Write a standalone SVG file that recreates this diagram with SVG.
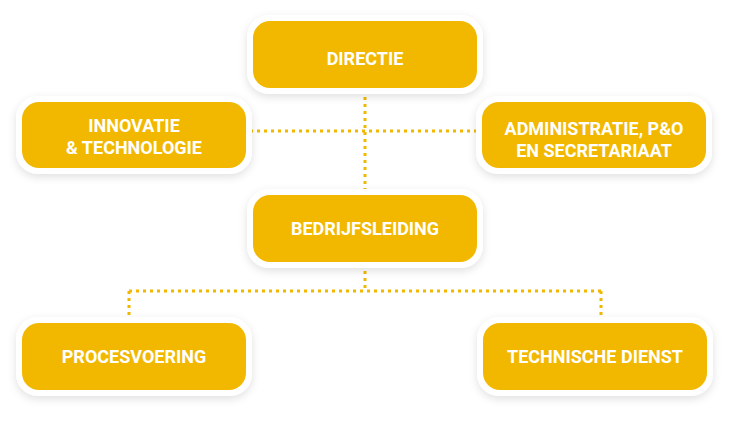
<svg xmlns="http://www.w3.org/2000/svg" width="730" height="421" viewBox="0 0 730 421">
<defs>
<filter id="sh" x="-10%" y="-20%" width="120%" height="150%"><feDropShadow dx="0" dy="3" stdDeviation="4" flood-color="#000" flood-opacity="0.12"/></filter>
<style>
.o{fill:#fff;filter:url(#sh)}
.b{fill:#F2B800}
.t{fill:#fff;font-family:Roboto,"Liberation Sans",sans-serif;font-weight:bold;font-size:18px;text-anchor:middle}
.c{stroke:#F2B800;stroke-width:3;stroke-dasharray:3 4;fill:none}
</style>
</defs>
<rect width="730" height="421" fill="#fff"/>
<g id="connectors">
<path class="c" d="M365 90V194M250 131H480M365 264V291M129 291H601M129 291V320M601 291V320"/>
</g>
<g id="directie"><rect class="o" x="247" y="15" width="236" height="79" rx="22"/><rect class="b" x="253" y="21" width="224" height="67" rx="17"/><text class="t" x="365" y="65">DIRECTIE</text></g>
<g id="innovatie"><rect class="o" x="16" y="96" width="236" height="78" rx="22"/><rect class="b" x="22" y="102" width="224" height="66" rx="17"/><text class="t" x="134" y="132">INNOVATIE</text><text class="t" x="134" y="154">&amp; TECHNOLOGIE</text></g>
<g id="administratie"><rect class="o" x="476" y="96" width="236" height="78" rx="22"/><rect class="b" x="482" y="102" width="224" height="66" rx="17"/><text class="t" x="594" y="135">ADMINISTRATIE, P&amp;O</text><text class="t" x="594" y="157">EN SECRETARIAAT</text></g>
<g id="bedrijfsleiding"><rect class="o" x="247" y="189" width="236" height="79" rx="22"/><rect class="b" x="253" y="195" width="224" height="67" rx="17"/><text class="t" x="365" y="235">BEDRIJFSLEIDING</text></g>
<g id="procesvoering"><rect class="o" x="16" y="317" width="236" height="79" rx="22"/><rect class="b" x="22" y="323" width="224" height="67" rx="17"/><text class="t" x="134" y="363">PROCESVOERING</text></g>
<g id="technische"><rect class="o" x="477" y="317" width="236" height="79" rx="22"/><rect class="b" x="483" y="323" width="224" height="67" rx="17"/><text class="t" x="595" y="363">TECHNISCHE DIENST</text></g>
</svg>
